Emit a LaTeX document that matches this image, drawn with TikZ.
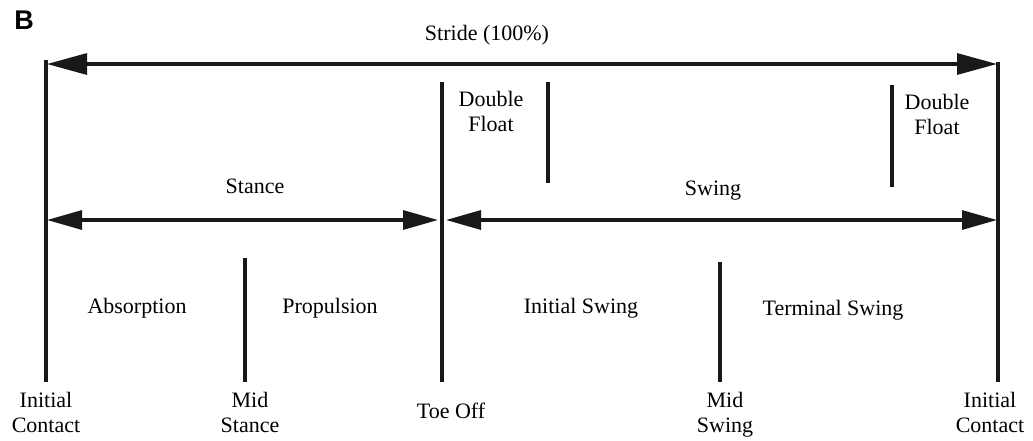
\documentclass[tikz,border=0pt]{standalone}
\usepackage{fontspec}
\setmainfont{Liberation Serif}
\newfontfamily\panelfont{Liberation Sans}
\usetikzlibrary{arrows.meta}
\begin{document}
\begin{tikzpicture}[x=1pt,y=-1pt,
  lbl/.style={font=\fontsize{22}{25}\selectfont, inner sep=0pt, align=center, anchor=base},
  tick/.style={line width=3.2pt, black!90},
  bigspan/.style={line width=3.2pt, black!90,
    {Triangle[length=40pt,width=21pt]}-{Triangle[length=40pt,width=21pt]}},
  phase/.style={line width=3.2pt, black!90,
    {Triangle[length=35pt,width=19pt]}-{Triangle[length=35pt,width=19pt]}}]
  \useasboundingbox (0,0) rectangle (1033,440);

  % panel letter
  \node[font=\panelfont\bfseries\fontsize{27}{27}\selectfont, inner sep=0pt] (panel) at (24,20) {B};

  % event markers (vertical lines)
  \coordinate (icL-top) at (46,60);   \coordinate (icL-bot) at (46,382);
  \coordinate (icR-top) at (998,62);  \coordinate (icR-bot) at (998,382);
  \coordinate (to-top) at (442,82);   \coordinate (to-bot) at (442,382);
  \coordinate (dfL-top) at (548,82);  \coordinate (dfL-bot) at (548,183);
  \coordinate (dfR-top) at (892,85);  \coordinate (dfR-bot) at (892,187);
  \coordinate (mst-top) at (245,258); \coordinate (mst-bot) at (245,382);
  \coordinate (msw-top) at (720,262); \coordinate (msw-bot) at (720,382);
  \foreach \m in {icL,icR,to,dfL,dfR,mst,msw}
    \draw[tick] (\m-top) -- (\m-bot);

  % span arrows
  \coordinate (strideA) at (47,64);   \coordinate (strideB) at (997,64);
  \coordinate (stanceA) at (47,220);  \coordinate (stanceB) at (438,220);
  \coordinate (swingA) at (446,220);  \coordinate (swingB) at (997,220);
  \draw[bigspan] (strideA) -- (strideB);
  \draw[phase] (stanceA) -- (stanceB);
  \draw[phase] (swingA) -- (swingB);

  % labels (two-line labels are placed by the baseline of their last line)
  \node[lbl] (stride) at (487,40) {Stride (100\%)};
  \node[lbl] (stance) at (255,193) {Stance};
  \node[lbl] (swing) at (713,195) {Swing};
  \node[lbl] (df1) at (491,131) {Double\\Float};
  \node[lbl] (df2) at (937,134) {Double\\Float};
  \node[lbl] (absorp) at (137,313) {Absorption};
  \node[lbl] (propul) at (330,313) {Propulsion};
  \node[lbl] (iswing) at (581,313) {Initial Swing};
  \node[lbl] (tswing) at (833,315) {Terminal Swing};
  \node[lbl] (icL) at (46,432) {Initial\\Contact};
  \node[lbl] (mstance) at (250,432) {Mid\\Stance};
  \node[lbl] (toeoff) at (451,418) {Toe Off};
  \node[lbl] (mswing) at (725,432) {Mid\\Swing};
  \node[lbl] (icR) at (990,432) {Initial\\Contact};
\end{tikzpicture}
\end{document}
